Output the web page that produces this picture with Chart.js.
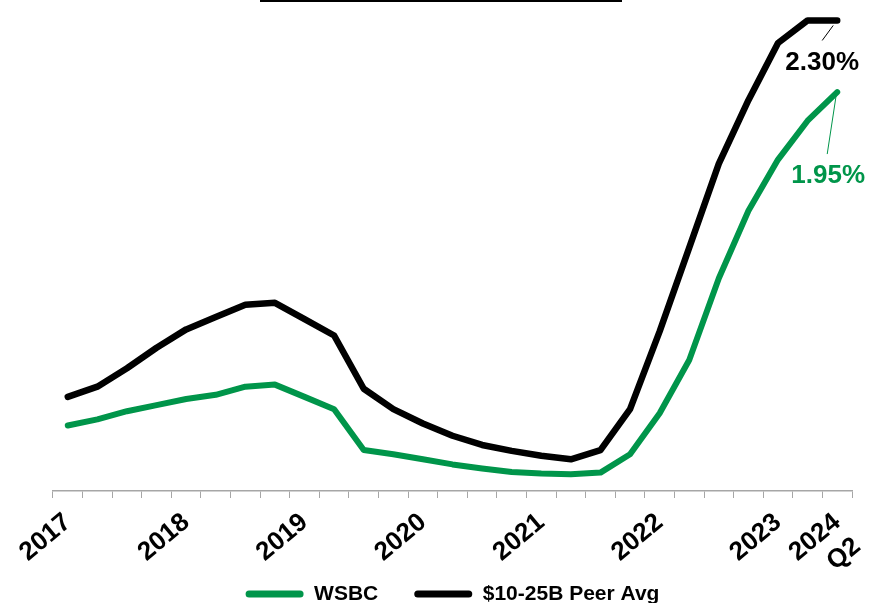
<!DOCTYPE html>
<html>
<head>
<meta charset="utf-8">
<script src="https://cdn.jsdelivr.net/npm/chart.js@4/dist/chart.umd.min.js"></script>
<style>
  html, body { margin: 0; padding: 0; background: #fff; }
  #wrap { width: 879px; height: 603px; position: relative; }
</style>
</head>
<body>
<div id="wrap"><canvas id="chart"></canvas></div>
<script>
(function () {
    'use strict';

    // ── DATA ───────────────────────────────────────────────────────────────
    const QUARTERS = [
        '4Q17','1Q18','2Q18','3Q18','4Q18','1Q19','2Q19','3Q19','4Q19',
        '1Q20','2Q20','3Q20','4Q20','1Q21','2Q21','3Q21','4Q21',
        '1Q22','2Q22','3Q22','4Q22','1Q23','2Q23','3Q23','4Q23','1Q24','2Q24'
    ];
    const TICK_LABELS = {
        '4Q17': '2017', '4Q18': '2018', '4Q19': '2019', '4Q20': '2020',
        '4Q21': '2021', '4Q22': '2022', '4Q23': '2023', '2Q24': ['2024', 'Q2']
    };
    const WSBC = [
        0.32, 0.35, 0.39, 0.42, 0.45, 0.47, 0.51, 0.52, 0.46,
        0.40, 0.20, 0.18, 0.155, 0.13, 0.11, 0.093, 0.085,
        0.082, 0.09, 0.18, 0.38, 0.64, 1.04, 1.37, 1.62, 1.81, 1.95
    ];
    const PEER = [
        0.46, 0.51, 0.60, 0.70, 0.79, 0.85, 0.91, 0.92, 0.84,
        0.76, 0.50, 0.40, 0.33, 0.27, 0.225, 0.196, 0.172,
        0.155, 0.20, 0.40, 0.78, 1.19, 1.60, 1.91, 2.19, 2.30, 2.30
    ];
    const SERIES_NAMES = ['WSBC', '$10-25B Peer Avg'];
    const END_LABELS   = ['1.95%', '2.30%'];

    // ── CHART COLORS ───────────────────────────────────────────────────────
    const GREEN = '#00954A';
    const BLACK = '#000000';
    const AXIS  = '#A6A6A6';
    const FONT  = "'Liberation Sans', Arial, sans-serif";

    // legend sits a little tighter under the axis labels than Chart.js allows
    const LEGEND_SHIFT = -19.5;

    const legendNudge = {
        id: 'legendNudge',
        afterLayout(chart) {
            if (!chart.legend) return;
            chart.legend.top += LEGEND_SHIFT;
            chart.legend.bottom += LEGEND_SHIFT;
        }
    };

    // end-of-line callouts (offsets relative to the last point)
    const callouts = {
        id: 'callouts',
        afterDatasetsDraw(chart) {
            const c = chart.ctx;
            const specs = [
                { ds: 0, color: GREEN, text: END_LABELS[0], tx: -9, ty: 84, l: [-1, 3, -10, 62] },
                { ds: 1, color: BLACK, text: END_LABELS[1], tx: -15, ty: 42, l: [-4, 5, -15, 20] }
            ];
            c.save();
            specs.forEach(s => {
                const meta = chart.getDatasetMeta(s.ds);
                const p = meta.data[meta.data.length - 1];
                c.strokeStyle = s.color;
                c.lineWidth = 1;
                c.beginPath();
                c.moveTo(p.x + s.l[0], p.y + s.l[1]);
                c.lineTo(p.x + s.l[2], p.y + s.l[3]);
                c.stroke();
                c.fillStyle = s.color;
                c.font = `bold 26px ${FONT}`;
                c.textAlign = 'center';
                c.textBaseline = 'middle';
                c.fillText(s.text, p.x + s.tx, p.y + s.ty);
            });
            // title underline left over at the top edge
            c.strokeStyle = BLACK;
            c.lineWidth = 2;
            c.beginPath();
            c.moveTo(260, 1);
            c.lineTo(622, 1);
            c.stroke();
            c.restore();
        }
    };

    new Chart(document.getElementById('chart'), {
        type: 'line',
        data: {
            labels: QUARTERS,
            datasets: [{
                label: SERIES_NAMES[0],
                data: WSBC,
                borderColor: GREEN,
                backgroundColor: GREEN,
                borderWidth: 6,
                pointRadius: 0,
                tension: 0,
                borderJoinStyle: 'round',
                borderCapStyle: 'round'
            }, {
                label: SERIES_NAMES[1],
                data: PEER,
                borderColor: BLACK,
                backgroundColor: BLACK,
                borderWidth: 6.5,
                pointRadius: 0,
                tension: 0,
                borderJoinStyle: 'round',
                borderCapStyle: 'round'
            }]
        },
        options: {
            responsive: true,
            maintainAspectRatio: false,
            animation: false,
            layout: { padding: { left: 53, right: 27, top: 0, bottom: -31 } },
            plugins: {
                legend: {
                    position: 'bottom',
                    labels: {
                        boxWidth: 58,
                        boxHeight: 7,
                        useBorderRadius: true,
                        borderRadius: 3.5,
                        padding: 36,
                        color: BLACK,
                        font: { family: FONT, size: 21, weight: 'bold', lineHeight: 1 },
                        generateLabels(chart) {
                            return Chart.defaults.plugins.legend.labels.generateLabels(chart)
                                .map(l => Object.assign(l, { lineWidth: 0 }));
                        }
                    }
                },
                tooltip: { enabled: false }
            },
            scales: {
                x: {
                    offset: true,
                    afterFit: s => {
                        s.height = 76;
                        s.paddingLeft = 0;
                        s.paddingRight = 0;
                    },
                    grid: {
                        offset: true,
                        drawOnChartArea: false,
                        drawTicks: true,
                        tickLength: 7,
                        color: AXIS
                    },
                    border: { color: AXIS, width: 1.5 },
                    ticks: {
                        autoSkip: false,
                        minRotation: 40,
                        maxRotation: 40,
                        padding: 9,
                        color: BLACK,
                        font: { family: FONT, size: 26, weight: 'bold' },
                        callback: function (v, i) {
                            return TICK_LABELS[QUARTERS[i]] || '';
                        }
                    }
                },
                y: {
                    display: false,
                    min: 0,
                    max: 2.4
                }
            }
        },
        plugins: [legendNudge, callouts]
    });
})();
</script>
</body>
</html>
